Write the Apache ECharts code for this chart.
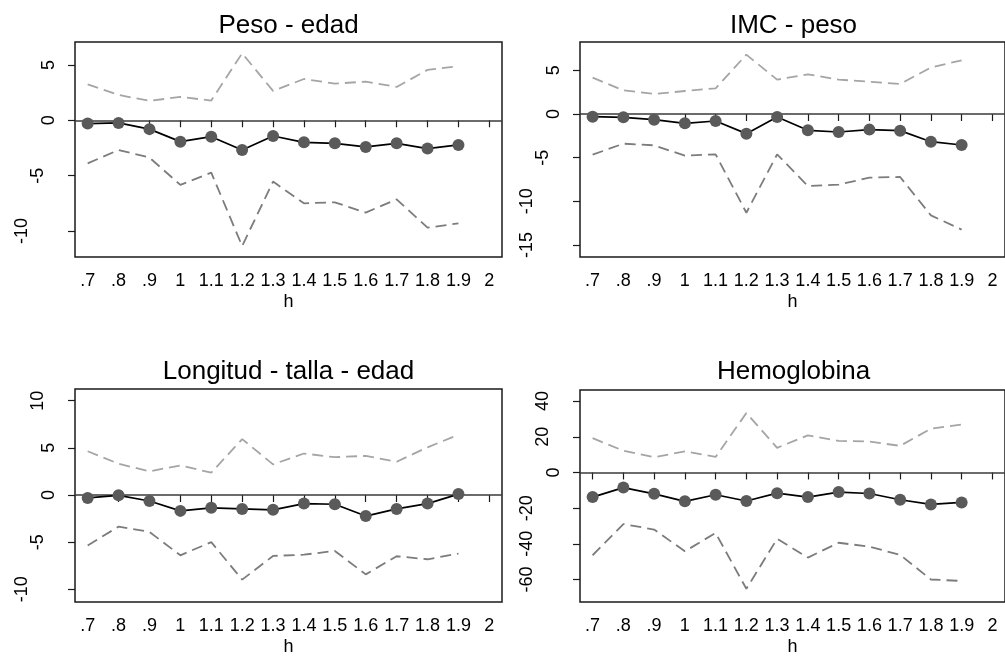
<!DOCTYPE html>
<html>
<head>
<meta charset="utf-8">
<title>Efectos por ancho de banda h</title>
<script src="https://cdn.jsdelivr.net/npm/echarts@6/dist/echarts.min.js"></script>
<style>
  html, body { margin: 0; padding: 0; background: #ffffff; }
  #chart { width: 1005px; height: 657px; }
</style>
</head>
<body>
<div id="chart"></div>
<script>
// Bandwidths h at which each effect was estimated
const hValues = [0.7, 0.8, 0.9, 1.0, 1.1, 1.2, 1.3, 1.4, 1.5, 1.6, 1.7, 1.8, 1.9];
const hTicks = [0.7, 0.8, 0.9, 1.0, 1.1, 1.2, 1.3, 1.4, 1.5, 1.6, 1.7, 1.8, 1.9, 2.0];
const hTickLabels = ['.7', '.8', '.9', '1', '1.1', '1.2', '1.3', '1.4', '1.5', '1.6', '1.7', '1.8', '1.9', '2'];

// Peso - edad
const pesoEdadEst   = [-0.30, -0.24, -0.80, -1.93, -1.48, -2.68, -1.42, -1.99, -2.08, -2.41, -2.08, -2.56, -2.23];
const pesoEdadUpper = [3.25, 2.29, 1.75, 2.11, 1.78, 6.05, 2.65, 3.73, 3.31, 3.49, 3.01, 4.55, 4.88];
const pesoEdadLower = [-3.89, -2.68, -3.37, -5.84, -4.73, -11.36, -5.54, -7.50, -7.41, -8.34, -7.14, -9.70, -9.31];
const pesoEdadTicks = [-10, -5, 0, 5];

// IMC - peso
const imcPesoEst   = [-0.31, -0.38, -0.65, -1.07, -0.80, -2.25, -0.34, -1.87, -2.06, -1.79, -1.91, -3.17, -3.55];
const imcPesoUpper = [4.16, 2.71, 2.29, 2.63, 2.94, 6.79, 3.93, 4.54, 3.93, 3.70, 3.44, 5.31, 6.15];
const imcPesoLower = [-4.66, -3.40, -3.59, -4.77, -4.62, -11.30, -4.62, -8.24, -8.09, -7.29, -7.21, -11.60, -13.24];
const imcPesoTicks = [-15, -10, -5, 0, 5];

// Longitud - talla - edad
const tallaEdadEst   = [-0.31, -0.03, -0.63, -1.68, -1.36, -1.47, -1.57, -0.91, -0.98, -2.23, -1.47, -0.91, 0.10];
const tallaEdadUpper = [4.64, 3.32, 2.51, 3.14, 2.37, 5.93, 3.25, 4.40, 4.01, 4.15, 3.53, 5.06, 6.39];
const tallaEdadLower = [-5.34, -3.35, -3.91, -6.39, -4.99, -8.97, -6.46, -6.32, -5.93, -8.41, -6.49, -6.81, -6.21];
const tallaEdadTicks = [-10, -5, 0, 5, 10];

// Hemoglobina
const hemoglobinaEst   = [-13.8, -8.5, -12.0, -16.2, -12.5, -16.0, -11.6, -13.8, -11.0, -11.8, -15.3, -17.9, -16.8];
const hemoglobinaUpper = [19.2, 12.2, 8.5, 11.8, 8.7, 33.3, 13.8, 20.8, 17.7, 17.3, 14.9, 24.5, 26.9];
const hemoglobinaLower = [-46.4, -28.9, -32.0, -44.2, -33.9, -65.2, -37.2, -47.7, -39.4, -41.6, -46.2, -60.0, -60.8];
const hemoglobinaTicks = [-60, -40, -20, 0, 20, 40];

const FONT = '"Liberation Sans", Arial, Helvetica, sans-serif';
const INK = '#1a1a1a';
const TICK_FONT = 18;

const panels = [
  { title: 'Peso - edad', est: pesoEdadEst, upper: pesoEdadUpper, lower: pesoEdadLower,
    ticks: pesoEdadTicks, yMin: -12.35, yMax: 7.07,
    box: { left: 75, top: 42, width: 427, height: 215 }, titleTop: 13 },
  { title: 'IMC - peso', est: imcPesoEst, upper: imcPesoUpper, lower: imcPesoLower,
    ticks: imcPesoTicks, yMin: -16.37, yMax: 8.24,
    box: { left: 580, top: 42, width: 427, height: 215 }, titleTop: 13 },
  { title: 'Longitud - talla - edad', est: tallaEdadEst, upper: tallaEdadUpper, lower: tallaEdadLower,
    ticks: tallaEdadTicks, yMin: -11.34, yMax: 11.24,
    box: { left: 75, top: 389, width: 427, height: 216 }, titleTop: 359 },
  { title: 'Hemoglobina', est: hemoglobinaEst, upper: hemoglobinaUpper, lower: hemoglobinaLower,
    ticks: hemoglobinaTicks, yMin: -72.6, yMax: 46.2,
    box: { left: 580, top: 390, width: 427, height: 215 }, titleTop: 359 }
];

const pairs = (ys) => hValues.map((h, i) => [h, ys[i]]);
const hLabel = (v) => {
  const i = hTicks.findIndex((t) => Math.abs(t - v) < 1e-6);
  return i >= 0 ? hTickLabels[i] : '';
};

// Vertical tick labels are rotated; longer labels sit further out from the axis.
const yLabelRich = {
  n1: { fontSize: TICK_FONT, fontFamily: FONT, color: '#000', padding: [0, 0, 0, 0] },
  n2: { fontSize: TICK_FONT, fontFamily: FONT, color: '#000', padding: [0, 0, 11, 0] },
  n3: { fontSize: TICK_FONT, fontFamily: FONT, color: '#000', padding: [0, 0, 27, 0] }
};

const option = {
  animation: false,
  backgroundColor: '#ffffff',
  title: panels.map((p) => ({
    text: p.title,
    left: p.box.left + p.box.width / 2,
    top: p.titleTop,
    textAlign: 'center',
    padding: 0,
    textStyle: { fontSize: 26, fontWeight: 'normal', color: '#000', fontFamily: FONT }
  })),
  grid: panels.map((p) => ({
    left: p.box.left, top: p.box.top, width: p.box.width, height: p.box.height,
    show: true, borderColor: INK, borderWidth: 1.5, backgroundColor: 'transparent',
    containLabel: false
  })),
  xAxis: panels.map((p, i) => ({
    type: 'value',
    gridIndex: i,
    min: 0.659,
    max: 2.041,
    splitLine: { show: false },
    axisLine: { show: false },
    axisTick: { show: true, customValues: hTicks, length: 7, lineStyle: { color: INK, width: 1.2 } },
    axisLabel: {
      customValues: hTicks, formatter: hLabel, margin: 15,
      fontSize: TICK_FONT, fontFamily: FONT, color: '#000'
    },
    name: 'h',
    nameLocation: 'middle',
    nameGap: 36,
    nameTextStyle: { fontSize: TICK_FONT, fontFamily: FONT, color: '#000' }
  })),
  yAxis: panels.map((p, i) => ({
    type: 'value',
    gridIndex: i,
    min: p.yMin,
    max: p.yMax,
    splitLine: { show: false },
    axisLine: { show: false },
    axisTick: { show: true, customValues: p.ticks, length: 7, lineStyle: { color: INK, width: 1.2 } },
    axisLabel: {
      customValues: p.ticks,
      rotate: 90,
      margin: 17,
      fontSize: TICK_FONT,
      fontFamily: FONT,
      color: '#000',
      formatter: (v) => {
        const s = String(v);
        return '{n' + Math.min(s.length, 3) + '|' + s + '}';
      },
      rich: yLabelRich
    }
  })),
  series: panels.flatMap((p, i) => [
    {
      type: 'line', xAxisIndex: i, yAxisIndex: i,
      data: pairs(p.upper),
      symbol: 'none',
      lineStyle: { color: '#a5a5a5', width: 1.8, type: [11, 6] },
      z: 2
    },
    {
      type: 'line', xAxisIndex: i, yAxisIndex: i,
      data: pairs(p.lower),
      symbol: 'none',
      lineStyle: { color: '#7c7c7c', width: 1.8, type: [11, 6] },
      z: 2
    },
    {
      type: 'line', xAxisIndex: i, yAxisIndex: i,
      data: pairs(p.est),
      symbol: 'circle',
      symbolSize: 12,
      itemStyle: { color: '#5a5a5a', borderWidth: 0 },
      lineStyle: { color: '#000000', width: 1.7 },
      z: 4,
      markLine: {
        silent: true,
        symbol: 'none',
        label: { show: false },
        lineStyle: { color: '#3a3a3a', width: 1.7, type: 'solid' },
        data: [{ yAxis: 0 }],
        z: 3
      }
    }
  ])
};

const chart = echarts.init(document.getElementById('chart'), null, { renderer: 'canvas' });
chart.setOption(option);
</script>
</body>
</html>
